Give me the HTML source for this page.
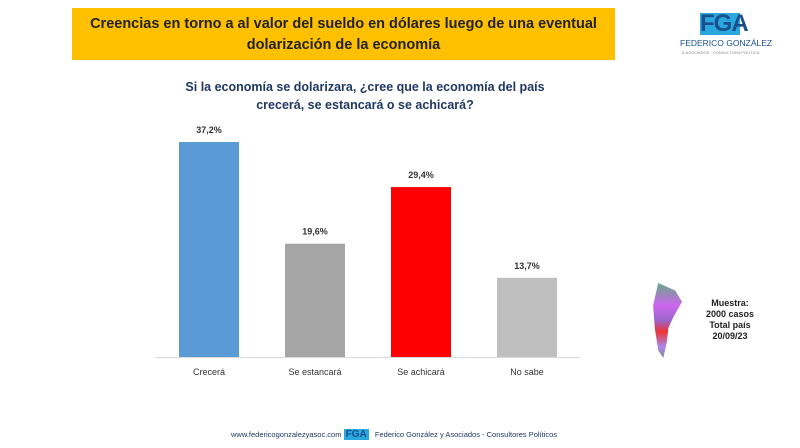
<!DOCTYPE html>
<html><head><meta charset="utf-8"><style>
body{margin:0;width:800px;height:448px;background:#fff;font-family:"Liberation Sans",sans-serif;position:relative;overflow:hidden}
.t{position:absolute}
</style></head><body>
<div class="t" style="left:72px;top:8px;width:543px;height:52px;background:#FFC000;"></div>
<div class="t" style="left:72px;top:14px;width:543px;text-align:center;font-weight:bold;font-size:14.5px;line-height:21px;color:#222">Creencias en torno a al valor del sueldo en dólares luego de una eventual<br>dolarización de la economía</div>
<div class="t" style="left:680px;top:13px;width:120px;height:50px">
 <div style="position:absolute;left:20px;top:0;width:40px;height:22px;background:#29a8e0"></div>
 <div style="position:absolute;left:20px;top:-3px;font-size:24px;font-weight:bold;color:#1b4f8c;letter-spacing:-1px">FGA</div>
 <div style="position:absolute;left:0;top:25px;font-size:8.5px;color:#1b4f8c;white-space:nowrap">FEDERICO GONZÁLEZ</div>
 <div style="position:absolute;left:2px;top:37px;font-size:4px;color:#888;white-space:nowrap">&amp; ASOCIADOS · CONSULTORA POLÍTICA</div>
</div>
<div class="t" style="left:150px;top:78px;width:430px;text-align:center;font-weight:bold;font-size:12.5px;line-height:18px;color:#1f3864">Si la economía se dolarizara, ¿cree que la economía del país<br>crecerá, se estancará o se achicará?</div>
<svg class="t" style="left:0;top:0" width="800" height="448" id="chart"></svg>
<div class="t" style="left:648px;top:283px;width:34px;height:75px;background:linear-gradient(#6a8,#c6e 30%,#96c 50%,#e33 65%,#a8e 85%,#888);clip-path:polygon(30% 0,80% 10%,100% 25%,75% 45%,60% 60%,55% 80%,45% 100%,30% 90%,20% 60%,15% 30%)"></div>
<div class="t" style="left:690px;top:298px;width:80px;text-align:center;font-weight:bold;font-size:9px;line-height:11px;color:#222">Muestra:<br>2000 casos<br>Total país<br>20/09/23</div>
<div class="t" style="left:231px;top:429px;font-size:7.5px;color:#1f3864;white-space:nowrap">www.federicogonzalezyasoc.com <span style="background:#29a8e0;color:#1b4f8c;font-weight:bold;font-size:10px;padding:0 2px">FGA</span> &nbsp; Federico González y Asociados - Consultores Políticos</div>
<script>
const categories=["Crecerá","Se estancará","Se achicará","No sabe"];
const values=[37.2,19.6,29.4,13.7];
const labels=["37,2%","19,6%","29,4%","13,7%"];
const colors=["#5B9BD5","#A5A5A5","#FF0000","#BFBFBF"];
const svg=document.getElementById('chart');const NS="http://www.w3.org/2000/svg";
const base=357,scale=215/37.2,x0=156,step=106,bw=60;
const y=v=>base-v*scale;const xc=i=>x0+step*(i+0.5);
function mk(t,a){const e=document.createElementNS(NS,t);for(const k in a)e.setAttribute(k,a[k]);svg.appendChild(e);return e;}
const ax=mk('line',{x1:155,x2:580,y1:base+0.5,y2:base+0.5,stroke:'#d9d9d9'});


values.forEach((v,i)=>{
 const r=mk('rect',{x:xc(i)-bw/2,y:y(v),width:bw,height:base-y(v),fill:colors[i]});
 
 
 const t=mk('text',{x:xc(i),y:y(v)-9,'text-anchor':'middle','font-size':'9','font-weight':'bold',fill:'#333','font-family':'Liberation Sans'});t.textContent=labels[i];
 
 
 const c=mk('text',{x:xc(i),y:375,'text-anchor':'middle','font-size':'9',fill:'#333','font-family':'Liberation Sans'});c.textContent=categories[i];
 
 
});
</script>
</body></html>
